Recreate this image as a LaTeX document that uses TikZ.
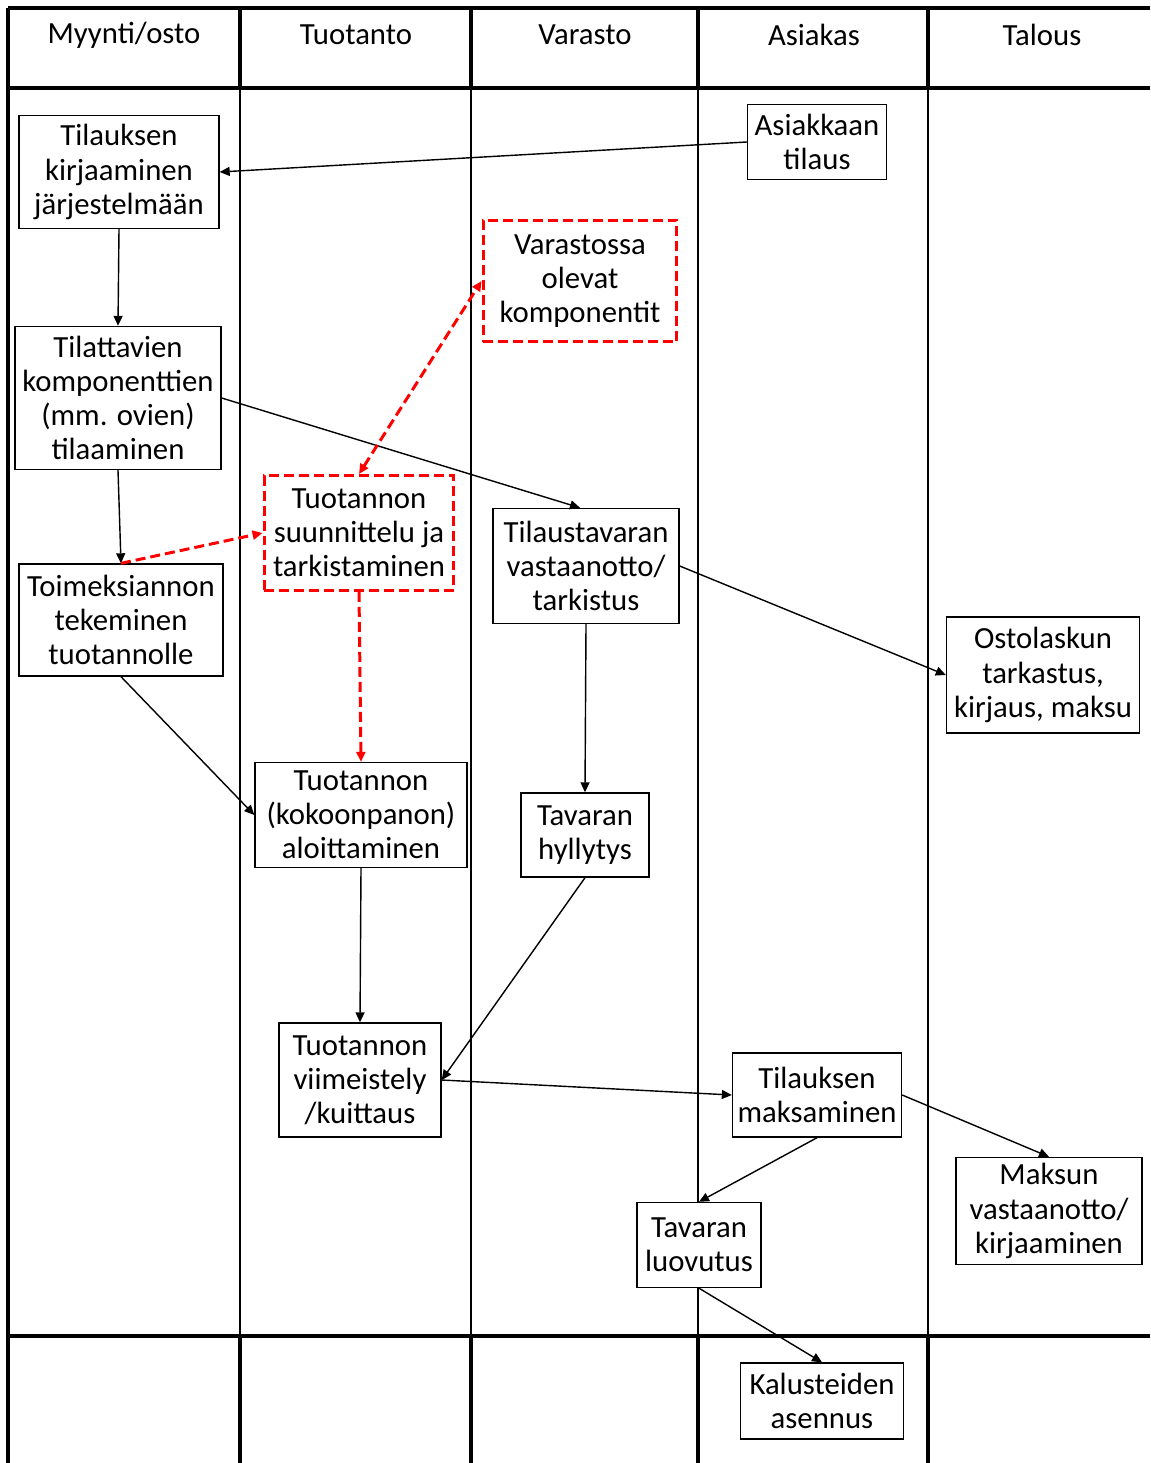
\documentclass[tikz,border=0pt]{standalone}
\usepackage{fontspec}
\setmainfont{Carlito}
\usetikzlibrary{arrows.meta}

\begin{document}
\begin{tikzpicture}[
    x=0.02cm, y=-0.02cm,
    txt/.style={font=\fontsize{17.5}{19.4}\selectfont},
    box/.style={draw, fill=white, line width=0.8pt, align=center, inner sep=1pt, txt},
    redbox/.style={box, draw=red, line width=1.7pt, dash pattern=on 2mm off 1mm},
    arrow/.style={-{Triangle[length=2mm, width=1.8mm]}, line width=0.8pt},
    redarrow/.style={arrow, draw=red, line width=1.7pt, dash pattern=on 2mm off 1mm},
    heavy/.style={line width=2pt},
    thin/.style={line width=0.8pt}
]
\useasboundingbox (0,0) rectangle (1150,1463);

% swimlane grid
\draw[heavy] (8,8) -- (1150,8);
\draw[heavy] (8,88) -- (1150,88);
\draw[heavy] (8,1336) -- (1150,1336);
\draw[heavy] (8,8) -- (8,1463);
\foreach \x in {240,471,698,928} {
    \draw[heavy] (\x,8) -- (\x,88);
    \draw[thin] (\x,88) -- (\x,1336);
    \draw[heavy] (\x,1336) -- (\x,1463);
}

\node[txt] (myynti) at (124,35) {Myynti/osto};
\node[txt] (tuotanto) at (356,35) {Tuotanto};
\node[txt] (varasto) at (585,35) {Varasto};
\node[txt] (asiakas) at (814,35) {Asiakas};
\node[txt] (talous) at (1042,35) {Talous};

% process steps
\node[box, minimum width=2.78cm, minimum height=1.5cm] (tilaus) at (817,142) {Asiakkaan\\tilaus};
\node[box, minimum width=4.0cm, minimum height=2.26cm] (kirjaus) at (119,172) {Tilauksen\\kirjaaminen\\järjestelmään};
\node[redbox, minimum width=3.88cm, minimum height=2.44cm] (komp) at (580,281) {Varastossa\\olevat\\komponentit};
\node[box, minimum width=4.12cm, minimum height=2.86cm] (tilaaminen) at (118,398) {Tilattavien\\komponenttien\\(mm. ovien)\\tilaaminen};
\node[redbox, minimum width=3.8cm, minimum height=2.3cm] (suunnittelu) at (359,533) {Tuotannon\\suunnittelu ja\\tarkistaminen};
\node[box, minimum width=3.72cm, minimum height=2.3cm] (vastaanotto) at (586,566) {Tilaustavaran\\vastaanotto/\\tarkistus};
\node[box, minimum width=4.08cm, minimum height=2.24cm] (toimeksianto) at (121,620) {Toimeksiannon\\tekeminen\\tuotannolle};
\node[box, minimum width=3.86cm, minimum height=2.32cm] (ostolasku) at (1043,675) {Ostolaskun\\tarkastus,\\kirjaus, maksu};
\node[box, minimum width=4.24cm, minimum height=2.1cm] (aloitus) at (361,815) {Tuotannon\\(kokoonpanon)\\aloittaminen};
\node[box, minimum width=2.56cm, minimum height=1.68cm] (hyllytys) at (585,835) {Tavaran\\hyllytys};
\node[box, minimum width=3.24cm, minimum height=2.28cm] (viimeistely) at (360,1080) {Tuotannon\\viimeistely\\/kuittaus};
\node[box, minimum width=3.38cm, minimum height=1.68cm] (maksaminen) at (817,1095) {Tilauksen\\maksaminen};
\node[box, minimum width=3.72cm, minimum height=2.14cm] (maksu) at (1049,1211) {Maksun\\vastaanotto/\\kirjaaminen};
\node[box, minimum width=2.48cm, minimum height=1.7cm] (luovutus) at (699,1245) {Tavaran\\luovutus};
\node[box, minimum width=3.26cm, minimum height=1.52cm] (asennus) at (822,1401) {Kalusteiden\\asennus};

% flow
\draw[arrow] (tilaus.west) -- (kirjaus.east);
\draw[arrow] (kirjaus.south) -- (tilaaminen.north);
\draw[arrow] (tilaaminen.east) -- ([xshift=-0.12cm]vastaanotto.north);
\draw[arrow] (tilaaminen.south) -- (toimeksianto.north);
\draw[redarrow] (toimeksianto.north) -- (suunnittelu.west);
\draw[redarrow, {Triangle[length=2mm, width=1.8mm]}-{Triangle[length=2mm, width=1.8mm]}] (suunnittelu.north) -- (komp.west);
\draw[redarrow] (suunnittelu.south) -- (aloitus.north);
\draw[arrow] (toimeksianto.south) -- (aloitus.west);
\draw[arrow] (vastaanotto.east) -- (ostolasku.west);
\draw[arrow] (vastaanotto.south) -- (hyllytys.north);
\draw[arrow] (aloitus.south) -- (viimeistely.north);
\draw[arrow] (hyllytys.south) -- (viimeistely.east);
\draw[arrow] (viimeistely.east) -- (maksaminen.west);
\draw[arrow] (maksaminen.east) -- (maksu.north);
\draw[arrow] (maksaminen.south) -- (luovutus.north);
\draw[arrow] (luovutus.south) -- (asennus.north);

\end{tikzpicture}
\end{document}
